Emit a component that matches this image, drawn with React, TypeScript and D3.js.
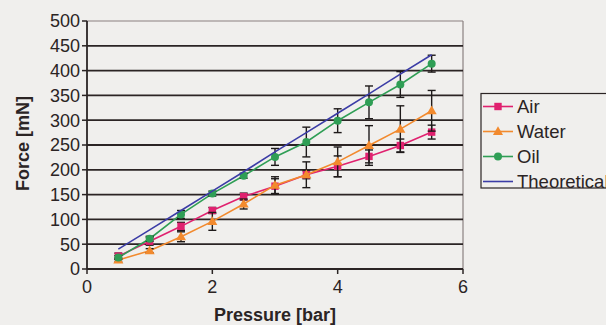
import * as d3 from 'd3';

const W = 606, H = 325;
const M = { top: 21, right: 143, bottom: 56, left: 87 };
const IW = W - M.left - M.right;
const IH = H - M.top - M.bottom;

// Pressure [bar]
const PRESSURE = [0.5, 1, 1.5, 2, 2.5, 3, 3.5, 4, 4.5, 5, 5.5];
// Force [mN], with half-widths of the error bars
const AIR = [26, 56, 86, 118, 146, 167, 190, 207, 227, 249, 276];
const AIR_ERR = [6, 8, 8, 6, 7, 15, 8, 21, 13, 13, 14];
const WATER = [18, 37, 65, 96, 131, 169, 190, 216, 249, 282, 319];
const WATER_ERR = [4, 4, 10, 18, 10, 17, 26, 30, 40, 47, 41];
const OIL = [23, 61, 110, 152, 188, 226, 256, 299, 336, 372, 414];
const OIL_ERR = [4, 5, 8, 5, 5, 17, 30, 24, 33, 26, 17];
const THEORETICAL = [40, 79, 118, 157, 196, 236, 275, 314, 353, 393, 432];

const X_TICKS = [0, 2, 4, 6];
const Y_TICKS = [0, 50, 100, 150, 200, 250, 300, 350, 400, 450, 500];
const LEGEND = ['Air', 'Water', 'Oil', 'Theoretical'];

const FONT = '"Liberation Sans", Arial, sans-serif';
const INK = '#2b2424';

const SERIES = [
  { name: 'Air', values: AIR, err: AIR_ERR, color: '#e0216f', marker: 'square' },
  { name: 'Water', values: WATER, err: WATER_ERR, color: '#f28a2e', marker: 'triangle' },
  { name: 'Oil', values: OIL, err: OIL_ERR, color: '#2f9e55', marker: 'circle' },
  { name: 'Theoretical', values: THEORETICAL, err: null as number[] | null, color: '#3b3ca6', marker: 'none' },
];

function Marker({ kind, x, y, color }: { kind: string; x: number; y: number; color: string }) {
  if (kind === 'square') return <rect x={x - 3.7} y={y - 3.7} width={7.4} height={7.4} fill={color} />;
  if (kind === 'circle') return <circle cx={x} cy={y} r={4} fill={color} />;
  if (kind === 'triangle') {
    const sym = d3.symbol(d3.symbolTriangle, 44)();
    return <path d={sym ?? ''} transform={`translate(${x},${y + 0.6})`} fill={color} />;
  }
  return null;
}

export default function App() {
  const x = d3.scaleLinear().domain([0, 6]).range([M.left, M.left + IW]);
  const y = d3.scaleLinear().domain([0, 500]).range([M.top + IH, M.top]);
  const line = d3.line<number>().x((_, i) => x(PRESSURE[i])).y(v => y(v));

  const legY = d3.scalePoint<string>().domain(LEGEND).range([106.5, 181.5]);
  const LX = 481;

  return (
    <svg width={W} height={H} style={{ position: 'fixed', left: 0, top: 0 }} fontFamily={FONT}>
      <rect width={W} height={H} fill="#f0efed" />

      {/* plot frame */}
      <line x1={x(0)} x2={x(6)} y1={y(500)} y2={y(500)} stroke="#8a8080" strokeWidth={1.2} />
      <line x1={x(6)} x2={x(6)} y1={y(500)} y2={y(0)} stroke="#8a8080" strokeWidth={1.2} />

      {/* gridlines */}
      {Y_TICKS.filter(t => t > 0 && t < 500).map(t => (
        <line key={t} x1={x(0)} x2={x(6)} y1={y(t)} y2={y(t)} stroke={INK} strokeWidth={1.8} />
      ))}

      {/* axes */}
      <line x1={x(0)} x2={x(6)} y1={y(0)} y2={y(0)} stroke={INK} strokeWidth={1.8} />
      <line x1={x(0)} x2={x(0)} y1={y(500)} y2={y(0)} stroke={INK} strokeWidth={1.8} />
      {Y_TICKS.map(t => (
        <g key={t}>
          <line x1={x(0) - 5} x2={x(0)} y1={y(t)} y2={y(t)} stroke={INK} strokeWidth={1.5} />
          <text x={x(0) - 7} y={y(t) + 6.3} textAnchor="end" fontSize={18} fill={INK}>{t}</text>
        </g>
      ))}
      {X_TICKS.map(t => (
        <g key={t}>
          <line x1={x(t)} x2={x(t)} y1={y(0)} y2={y(0) + 5} stroke={INK} strokeWidth={1.5} />
          <text x={x(t)} y={y(0) + 24} textAnchor="middle" fontSize={18} fill={INK}>{t}</text>
        </g>
      ))}

      <text x={(x(0) + x(6)) / 2} y={320.5} textAnchor="middle" fontSize={18} fontWeight="bold" fill={INK}>
        Pressure [bar]
      </text>
      <text transform="translate(28.5,143.5) rotate(-90)" textAnchor="middle" fontSize={18} fontWeight="bold" fill={INK}>
        Force [mN]
      </text>

      {/* series */}
      {SERIES.map(s => (
        <g key={s.name}>
          <path d={line(s.values) ?? ''} fill="none" stroke={s.color} strokeWidth={1.6} />
          {s.err && s.values.map((v, i) => {
            const cx = x(PRESSURE[i]);
            const lo = y(v - s.err![i]), hi = y(v + s.err![i]);
            return (
              <g key={i} stroke="#1e1a1a" strokeWidth={1.4}>
                <line x1={cx} x2={cx} y1={lo} y2={hi} />
                <line x1={cx - 4} x2={cx + 4} y1={lo} y2={lo} />
                <line x1={cx - 4} x2={cx + 4} y1={hi} y2={hi} />
              </g>
            );
          })}
          {s.values.map((v, i) => (
            <Marker key={i} kind={s.marker} x={x(PRESSURE[i])} y={y(v)} color={s.color} />
          ))}
        </g>
      ))}

      {/* legend */}
      <rect x={LX} y={93.5} width={160} height={94.5} fill="none" stroke={INK} strokeWidth={1.2} />
      {SERIES.map(s => {
        const ly = legY(s.name)!;
        return (
          <g key={s.name}>
            <line x1={LX + 2} x2={LX + 32} y1={ly} y2={ly} stroke={s.color} strokeWidth={1.6} />
            <Marker kind={s.marker} x={LX + 17} y={ly} color={s.color} />
            <text x={LX + 36} y={ly + 6} fontSize={18.5} fill={INK}>{s.name}</text>
          </g>
        );
      })}
    </svg>
  );
}
